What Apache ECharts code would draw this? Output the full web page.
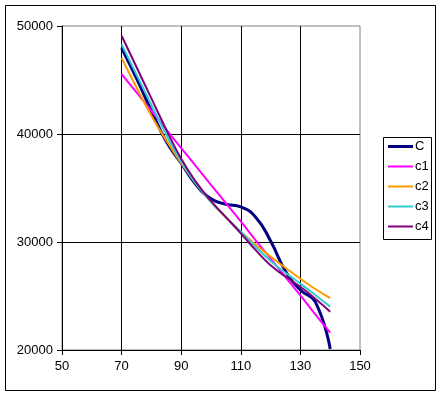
<!DOCTYPE html>
<html>
<head>
<meta charset="utf-8">
<script src="https://cdn.jsdelivr.net/npm/echarts@6/dist/echarts.min.js"></script>
<style>
  html, body { margin: 0; padding: 0; background: #ffffff; }
  #main { width: 443px; height: 397px; }
</style>
</head>
<body>
<div id="main"></div>
<script>
var xValues = [70, 75, 80, 85, 90, 95, 100, 105, 110, 115, 120, 125, 130, 135, 140];
var cValues = [47950, 45150, 42150, 39300, 37300, 35300, 34000, 33500, 33250, 32300, 30100, 27300, 25550, 24450, 20100];
var c1Values = [45550, 43850, 42150, 40400, 38700, 37000, 35300, 33600, 31900, 30150, 28450, 26750, 25050, 23300, 21600];
var c2Values = [47050, 44300, 41700, 39400, 37300, 35400, 33700, 32250, 30950, 29750, 28650, 27600, 26600, 25650, 24800];
var c3Values = [48300, 45500, 42700, 39950, 37450, 35400, 33700, 32300, 30950, 29550, 28250, 27150, 26150, 25100, 24000];
var c4Values = [49100, 46200, 43300, 40400, 37700, 35550, 33800, 32300, 30800, 29250, 27850, 26800, 25850, 24750, 23550];
var seriesNames = ['C', 'c1', 'c2', 'c3', 'c4'];

var chartDom = document.getElementById('main');
var myChart = echarts.init(chartDom);
var option;

function pairs(ys) {
    return xValues.map(function (x, i) { return [x, ys[i]]; });
}

function makeSeries(name, ys, color, width) {
    return {
        name: name,
        type: 'line',
        data: pairs(ys),
        smooth: true,
        symbol: 'none',
        lineStyle: { color: color, width: width },
        itemStyle: { color: color }
    };
}

var thickBar = 'path://M0,0H25V3H0Z';
var thinBar = 'path://M0,0H25V2H0Z';

option = {
    animation: false,
    backgroundColor: '#ffffff',
    textStyle: { fontFamily: 'Liberation Sans, Arial, sans-serif', color: '#000000' },
    graphic: [
        {
            type: 'rect',
            shape: { x: 5.5, y: 5.5, width: 430, height: 385 },
            style: { fill: 'none', stroke: '#000000', lineWidth: 1 },
            silent: true
        },
        {
            type: 'rect',
            shape: { x: 383.5, y: 137.5, width: 48, height: 102 },
            style: { fill: '#ffffff', stroke: '#000000', lineWidth: 1 },
            silent: true,
            z: -1
        }
    ],
    legend: {
        orient: 'vertical',
        left: 388,
        top: 140,
        padding: 0,
        itemWidth: 25,
        itemHeight: 14,
        itemGap: 7,
        symbolKeepAspect: true,
        textStyle: {
            fontFamily: 'Liberation Sans, Arial, sans-serif',
            fontSize: 13,
            color: '#000000',
            padding: [0, 0, 0, -3]
        },
        data: [
            { name: 'C', icon: thickBar },
            { name: 'c1', icon: thinBar },
            { name: 'c2', icon: thinBar },
            { name: 'c3', icon: thinBar },
            { name: 'c4', icon: thinBar }
        ]
    },
    grid: {
        left: 62,
        top: 26,
        right: 83,
        bottom: 47,
        show: true,
        backgroundColor: '#ffffff',
        borderColor: '#808080',
        borderWidth: 1
    },
    xAxis: {
        type: 'value',
        min: 50,
        max: 150,
        interval: 20,
        axisLine: { show: true, lineStyle: { color: '#000000', width: 1 } },
        axisTick: { show: true, length: 5, lineStyle: { color: '#000000' } },
        axisLabel: { color: '#000000', fontSize: 13, margin: 10, fontFamily: 'Liberation Sans, Arial, sans-serif' },
        splitLine: { show: true, showMinLine: false, showMaxLine: false, lineStyle: { color: '#000000', width: 1 } }
    },
    yAxis: {
        type: 'value',
        min: 20000,
        max: 50000,
        interval: 10000,
        axisLine: { show: true, lineStyle: { color: '#000000', width: 1 } },
        axisTick: { show: true, length: 5, lineStyle: { color: '#000000' } },
        axisLabel: {
            color: '#000000',
            fontSize: 13,
            margin: 9,
            fontFamily: 'Liberation Sans, Arial, sans-serif',
            formatter: function (v) { return String(v); }
        },
        splitLine: { show: true, showMinLine: false, showMaxLine: false, lineStyle: { color: '#000000', width: 1 } }
    },
    series: [
        makeSeries('C', cValues, '#000080', 3),
        makeSeries('c1', c1Values, '#ff00ff', 2),
        makeSeries('c2', c2Values, '#ff9900', 2),
        makeSeries('c3', c3Values, '#33cccc', 2),
        makeSeries('c4', c4Values, '#800080', 2)
    ]
};

option && myChart.setOption(option);
</script>
</body>
</html>
